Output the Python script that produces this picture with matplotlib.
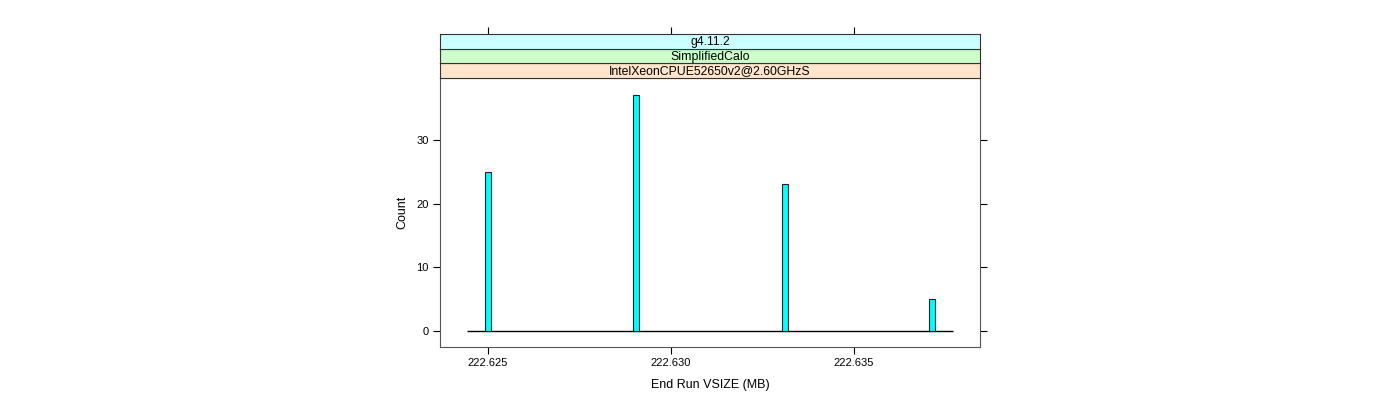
import numpy as np
import matplotlib.pyplot as plt

plt.rcParams['font.family'] = ['Liberation Sans', 'DejaVu Sans']

# histogram bars (bin centres, counts)
vsize = [222.62500, 222.62904, 222.63311, 222.63713]
counts = [25, 37, 23, 5]
bin_width = 0.000165
# full range of the histogram breaks (zero-height bins draw the baseline)
hist_range = [222.62443, 222.63771]

strips = ['IntelXeonCPUE52650v2@2.60GHzS', 'SimplifiedCalo', 'g4.11.2']
strip_cols = ['#ffe5cc', '#ccffcc', '#ccffff']

xticks = [222.625, 222.630, 222.635]
xticklabels = ['222.625', '222.630', '222.635']
yticks = [0, 10, 20, 30]

fig = plt.figure(figsize=(14, 4), dpi=100)
W, H = 1400, 400
L, R, B, T = 440, 980, 347, 78
ax = fig.add_axes([L / W, 1 - B / H, (R - L) / W, (B - T) / H])

ax.bar(vsize, counts, width=bin_width, color='#00ffff', edgecolor='#222222', linewidth=0.8, zorder=3)
ax.hlines(0, hist_range[0], hist_range[1], color='black', linewidth=1, zorder=2)

ax.set_xlim(222.62369, 222.63844)
ax.set_ylim(-2.5, 39.7)
ax.set_xticks(xticks)
ax.set_xticklabels(xticklabels)
ax.set_yticks(yticks)
ax.tick_params(axis='both', direction='out', length=5, width=0.8, labelsize=8, pad=3,
               right=True, top=False)
for s in ax.spines.values():
    s.set_color('#555555')
    s.set_linewidth(0.8)
ax.set_ylabel('Count', fontsize=9, labelpad=6)
ax.set_xlabel('End Run VSIZE (MB)', fontsize=9, labelpad=8)

# strips
sh = (78 - 34) / 3
for i, (txt, col) in enumerate(zip(strips, strip_cols)):
    top = T - i * sh
    sax = fig.add_axes([L / W, 1 - top / H, (R - L) / W, sh / H])
    sax.set_facecolor(col)
    sax.set_xlim(ax.get_xlim())
    sax.set_yticks([])
    for s in sax.spines.values():
        s.set_color('#333333')
        s.set_linewidth(0.8)
    sax.text(0.5, 0.45, txt, transform=sax.transAxes, ha='center', va='center', fontsize=8.8)
    if i == len(strips) - 1:
        sax.set_xticks(xticks)
        sax.tick_params(axis='x', direction='out', length=5, width=0.8,
                        top=True, bottom=False, labeltop=False, labelbottom=False)
    else:
        sax.set_xticks([])

fig.savefig('out.png', dpi=100)
